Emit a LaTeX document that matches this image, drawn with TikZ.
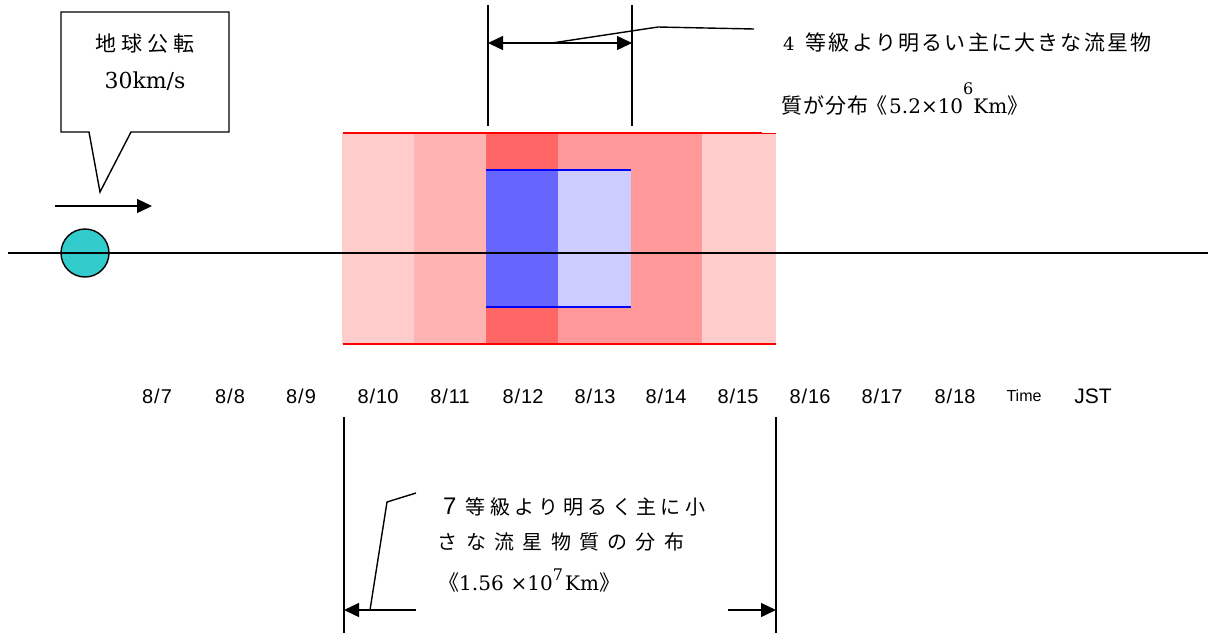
\documentclass[tikz,border=0pt]{standalone}
\usepackage{fontspec}
\usetikzlibrary{arrows.meta}
\newfontfamily\jp{Noto Sans CJK JP}
\newfontfamily\ar{Liberation Sans}
\newfontfamily\sr{DejaVu Serif}
\definecolor{pA}{HTML}{FFCCCC}
\definecolor{pB}{HTML}{FFB3B3}
\definecolor{pC}{HTML}{FF6666}
\definecolor{pD}{HTML}{FF9999}
\definecolor{bA}{HTML}{6666FF}
\definecolor{bB}{HTML}{CCCCFF}
\definecolor{earth}{HTML}{33CCCC}
\newcommand\gridtext[2]{\def\myGW{#1}\myGridLoop#2\relax}
\def\myGridLoop#1{\ifx\relax#1\else\makebox[\myGW]{#1}\expandafter\myGridLoop\fi}
\newcommand\jpf[1]{\jp\fontsize{#1}{#1}\selectfont}
\newcommand\srf[1]{\sr\fontsize{#1}{#1}\selectfont}
\newcommand\arf[1]{\ar\fontsize{#1}{#1}\selectfont}
\begin{document}
\begin{tikzpicture}[x=1pt,y=-1pt,
  blk/.style={line width=1.4pt,black},
  tip/.style={-{Triangle[length=15pt,width=14pt]}},
  txt/.style={inner sep=0pt,anchor=base west},
  date/.style={inner sep=0pt,anchor=base}]
\useasboundingbox (0,0) rectangle (1208,633);
% coloured band
\fill[pA] (342,133) rectangle (414,344);
\fill[pB] (414,133) rectangle (486,344);
\fill[pC] (486,133) rectangle (558,344);
\fill[pD] (558,133) rectangle (702,344);
\fill[pA] (702,133) rectangle (776,344);
\fill[bA] (486,170) rectangle (558,307);
\fill[bB] (558,170) rectangle (631,307);
\draw[red,line width=2pt] (343,133) -- (762,133);
\draw[red,line width=1pt] (762,133.5) -- (776,133.5);
\draw[red,line width=2pt] (343,344) -- (776,344);
\draw[blue,line width=1.5pt] (486,170) -- (631,170);
\draw[blue,line width=1.5pt] (486,307) -- (631,307);
% earth and axis
\node[circle,draw,line width=1.4pt,fill=earth,minimum size=48pt,inner sep=0pt] (earth) at (85,253) {};
\coordinate (axL) at (8,253);
\coordinate (axR) at (1208,253);
\draw[line width=2.5pt] (axL) -- (axR);
\coordinate (mvA) at (55,206);
\coordinate (mvB) at (152,206);
\draw[blk,tip] (mvA) -- (mvB);
% callout
\draw[blk,fill=white] (61,12) -- (229,12) -- (229,132) -- (131,132) -- (100,192) -- (89,132) -- (61,132) -- cycle;
\node[inner sep=0pt,anchor=base] (cl1) at (145,51) {\jpf{21}\gridtext{25.7pt}{地球公転}};
\node[inner sep=0pt,anchor=base] (cl2) at (145,88) {\srf{22}30km/s};
% top dimension
\coordinate (v1t) at (488,5); \coordinate (v1b) at (488,126);
\coordinate (v2t) at (632,5); \coordinate (v2b) at (632,126);
\draw[blk] (v1t) -- (v1b);
\draw[blk] (v2t) -- (v2b);
\coordinate (a1) at (488,43); \coordinate (a2) at (632,43);
\draw[blk,{Triangle[length=15pt,width=14pt]}-{Triangle[length=15pt,width=14pt]}] (a1) -- (a2);
\coordinate (l1) at (552,43); \coordinate (l2) at (658,27); \coordinate (l3) at (754,29);
\draw[blk] (l1) -- (l2) -- (l3);
\node[txt] (tr1) at (783,50) {\srf{18}4\hspace{10pt}\jpf{21}\gridtext{23.2pt}{等級より明るい主に大きな流星物}};
\node[txt] (tr2) at (781,113) {\jpf{21}\gridtext{22pt}{質が分布}};
\node[txt] (tr3) at (866,113) {\jpf{21}《\hspace{2pt}\srf{20}5.2×10\raisebox{19pt}{\srf{16}6}Km\jpf{21}》};
% dates
\foreach \x/\d in {157/7,230/8,301/9,378/10,450/11,523/12,595/13,666/14,738/15,810/16,882/17,955/18}
  \node[date] (d\d) at (\x,403) {\arf{20}8\kern1pt/\kern1pt\d};
\node[date] (time) at (1024,401) {\arf{16}Time};
\node[date] (jst) at (1093,403) {\arf{21}JST};
% bottom dimension
\coordinate (w1t) at (344,417); \coordinate (w1b) at (344,633);
\coordinate (w2t) at (776,417); \coordinate (w2b) at (776,633);
\draw[blk] (w1t) -- (w1b);
\draw[blk] (w2t) -- (w2b);
\coordinate (b1) at (416,610); \coordinate (b1e) at (344,610);
\coordinate (b2) at (728,610); \coordinate (b2e) at (776,610);
\draw[blk,tip] (b1) -- (b1e);
\draw[blk,tip] (b2) -- (b2e);
\coordinate (m1) at (370,610); \coordinate (m2) at (387,502); \coordinate (m3) at (416,493);
\draw[blk] (m1) -- (m2) -- (m3);
\node[txt] (bt1) at (443,514) {\arf{24}7\hspace{7pt}\jpf{20}\gridtext{24.4pt}{等級より明るく主に小}};
\node[txt] (bt2) at (433.5,549) {\jpf{20}\gridtext{28.3pt}{さな流星物質の分布}};
\node[txt] (bt3) at (438,590) {\jpf{21}《\srf{20}1.56\hspace{7pt}×10\raisebox{10pt}{\srf{16}7}\hspace{2pt}Km\jpf{21}》};
\end{tikzpicture}
\end{document}
